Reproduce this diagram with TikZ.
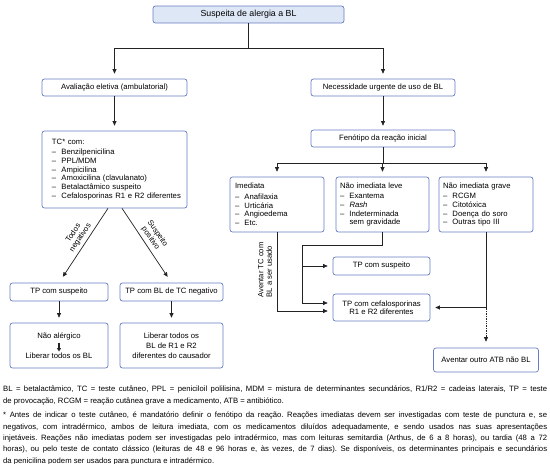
\documentclass[tikz,border=0pt]{standalone}
\usepackage{fontspec}
\setmainfont{Liberation Sans}
\usetikzlibrary{arrows.meta}
\definecolor{bdr}{RGB}{104,124,196}
\definecolor{topfill}{RGB}{222,231,245}
\definecolor{ln}{RGB}{35,35,35}
\newcommand{\itm}[1]{\mbox{\makebox[9.5pt][l]{–}#1}}
\frenchspacing
\hbadness=10000
\hfuzz=20pt
\begin{document}
\begin{tikzpicture}[x=1pt,y=-1pt,
  box/.style={draw=bdr, line width=0.7pt, rounded corners=2.5pt, fill=white,
    inner sep=0pt, font=\fontsize{7.7}{8.8}\selectfont, align=center},
  lstbox/.style={box, align=left},
  conn/.style={draw=ln, line width=0.7pt},
  arr/.style={conn, -{Triangle[length=4.5pt,width=4pt]}, shorten >=5pt},
  lbl/.style={font=\fontsize{7.6}{8.4}\selectfont, align=center, inner sep=0pt},
  foot/.style={anchor=north west, text width=544pt, inner sep=0pt, align=justify,
    font=\fontsize{7.7}{11.35}\selectfont}
  ]
\useasboundingbox (0,0) rectangle (550,464);

% boxes
\node[box, fill=topfill, minimum width=191pt, minimum height=17pt, font=\fontsize{8.8}{10}\selectfont] (top) at (248.5,14.5) {Suspeita de alergia a BL};
\node[box, minimum width=145pt, minimum height=17pt] (aval) at (114.5,87.5) {Avaliação eletiva (ambulatorial)};
\node[box, minimum width=144pt, minimum height=17pt] (nec) at (383,87.5) {Necessidade urgente de uso de BL};
\node[lstbox, text width=125pt, inner xsep=10pt, minimum height=77pt] (tc) at (114.5,169.5)
  {TC* com:\\[1.5pt]\itm{Benzilpenicilina}\\\itm{PPL/MDM}\\\itm{Ampicilina}\\\itm{Amoxicilina (clavulanato)}\\\itm{Betalactâmico suspeito}\\\itm{Cefalosporinas R1 e R2 diferentes}};
\node[box, minimum width=144pt, minimum height=17pt] (fen) at (383,138.5) {Fenótipo da reação inicial};
\node[lstbox, text width=84pt, inner xsep=5pt, minimum height=55pt] (imed) at (277,204.5)
  {Imediata\\[1.5pt]\itm{Anafilaxia}\\\itm{Urticária}\\\itm{Angioedema}\\\itm{Etc.}};
\node[lstbox, text width=85pt, inner xsep=4pt, minimum height=55pt] (leve) at (382.5,204.5)
  {Não imediata leve\\[1.5pt]\itm{Exantema}\\\itm{\textit{Rash}}\\\itm{Indeterminada}\\\hspace*{9.5pt}sem gravidade};
\node[lstbox, text width=86pt, inner xsep=4pt, minimum height=55pt] (grave) at (486,204.5)
  {Não imediata grave\\[1.5pt]\itm{RCGM}\\\itm{Citotóxica}\\\itm{Doença do soro}\\\itm{Outras tipo III}};
\node[box, minimum width=97pt, minimum height=18pt] (tpsus2) at (381.5,266) {TP com suspeito};
\node[box, minimum width=97pt, minimum height=27pt, font=\fontsize{7.7}{8.4}\selectfont] (tpcef) at (381.5,307.5) {TP com cefalosporinas\\R1 e R2 diferentes};
\node[box, minimum width=105pt, minimum height=24pt] (atb) at (486,360) {Aventar outro ATB não BL};
\node[box, minimum width=98pt, minimum height=18pt] (tpsus1) at (59,292) {TP com suspeito};
\node[box, minimum width=103pt, minimum height=18pt] (tpbl) at (171.5,292) {TP com BL de TC negativo};
\node[box, minimum width=98pt, minimum height=45pt] (naoal) at (59,345.5) {Não alérgico\\[11pt]Liberar todos os BL};
\node[box, minimum width=103pt, minimum height=45pt, font=\fontsize{7.7}{10}\selectfont] (lib) at (171.5,345.5) {Liberar todos os\\BL de R1 e R2\\diferentes do causador};

% connectors top
\coordinate (j1) at (248.5,48);
\draw[conn] (top.south) -- (j1);
\draw[arr] (j1) -| (aval.north);
\draw[arr] (j1) -| (nec.north);
\draw[arr] (aval.south) -- (tc.north);
\draw[arr, shorten >=4pt] (nec.south) -- (fen.north);
\coordinate (j2) at (383,163);
\draw[conn] (fen.south) -- (j2);
\draw[arr] (j2) -| (imed.north);
\draw[arr] (j2) -| (leve.north);
\draw[arr] (j2) -| (grave.north);

% right lower connectors
\draw[arr] (imed.south) |- ([yshift=-3.5pt]tpcef.west);
\coordinate (k1) at (302.7,245);
\draw[conn] (leve.south) |- (k1);
\draw[arr] (k1) |- ([yshift=4.5pt]tpcef.west);
\draw[arr] (k1 |- tpsus2.west) -- (tpsus2.west);
\draw[arr] (grave.south) |- (tpcef.east);
\draw[arr, densely dotted, shorten >=6pt] (grave.south |- tpcef.east) -- (atb.north);
\node[lbl, rotate=90, align=left] (aventar) at (265,270) {Aventar TC com\\BL a ser usado};

% left lower connectors
\draw[arr, shorten >=7pt] ([xshift=-6.5pt]tc.south) -- (tpsus1.north);
\draw[arr, shorten >=7pt] ([xshift=7.5pt]tc.south) -- (tpbl.north);
\node[lbl, rotate=56] (todos) at (77,235.5) {Todos\\negativos};
\node[lbl, rotate=-55] (susp) at (154,236) {Suspeito\\positivo};
\draw[arr] (tpsus1.south) -- (naoal.north);
\draw[arr] (tpbl.south) -- (lib.north);
\draw[conn, line width=1.1pt, -{Triangle[length=3.5pt,width=4pt]}] ([yshift=3pt]naoal.center) -- ([yshift=-6pt]naoal.center);

% footnotes
\node[foot] (fn1) at (3,386) {BL = betalactâmico, TC = teste cutâneo, PPL = peniciloil polilisina, MDM = mistura de determinantes secundários, R1/R2 = cadeias laterais, TP = teste\linebreak de provocação, RCGM = reação cutânea grave a medicamento, ATB = antibiótico.};
\node[foot] (fn2) at (3,412) {* Antes de indicar o teste cutâneo, é mandatório definir o fenótipo da reação. Reações imediatas devem ser investigadas com teste de punctura e, se\linebreak negativos, com intradérmico, ambos de leitura imediata, com os medicamentos diluídos adequadamente, e sendo usados nas suas apresentações\linebreak injetáveis. Reações não imediatas podem ser investigadas pelo intradérmico, mas com leituras semitardia (Arthus, de 6 a 8 horas), ou tardia (48 a 72\linebreak horas), ou pelo teste de contato clássico (leituras de 48 e 96 horas e, às vezes, de 7 dias). Se disponíveis, os determinantes principais e secundários\linebreak da penicilina podem ser usados para punctura e intradérmico.};
\end{tikzpicture}
\end{document}
